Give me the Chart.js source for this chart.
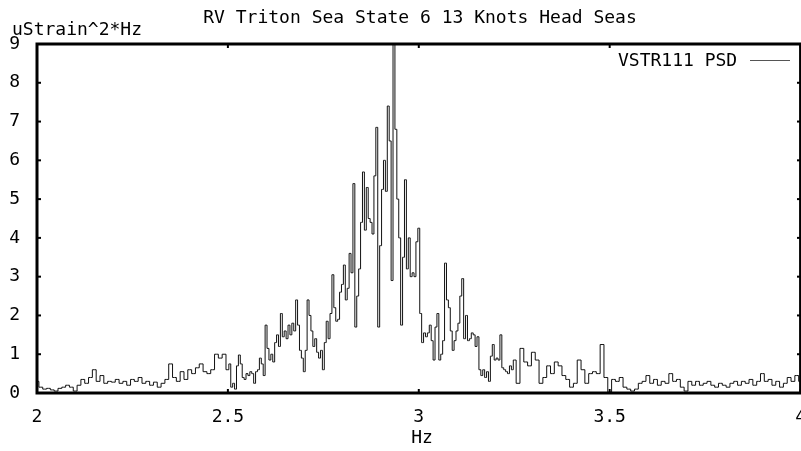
<!DOCTYPE html>
<html>
<head>
<meta charset="utf-8">
<script src="https://cdn.jsdelivr.net/npm/chart.js@4.4.0/dist/chart.umd.min.js"></script>
<style>
  html,body{margin:0;padding:0;background:#fff;overflow:hidden;}
  #clip{width:801px;height:451px;overflow:hidden;position:relative;}
  #psd{position:absolute;left:0;top:0;}
</style>
</head>
<body>
<div id="clip"><canvas id="psd" width="812" height="451"></canvas></div>
<script>
// PSD values, in three runs of fixed bin width
const lowStart = 2.00, lowStep = 0.01;
const lowPsd = [0.3,0.15,0.1,0.12,0.08,0.05,0.12,0.15,0.2,0.15,
  0.05,0.2,0.35,0.25,0.4,0.6,0.3,0.45,0.25,0.3,
  0.28,0.35,0.25,0.3,0.2,0.35,0.3,0.4,0.25,0.3,
  0.2,0.28,0.15,0.25,0.35,0.75,0.4,0.3,0.55,0.35,
  0.6,0.5,0.65,0.75,0.55,0.5,0.6,1.0,0.9,1.0];

const midStart = 2.50, midStep = 0.005;
const midPsd = [0.6,0.75,0.15,0.25,0.1,0.7,0.98,0.75,0.4,0.35,
  0.5,0.45,0.55,0.5,0.25,0.55,0.6,0.9,0.75,0.45,
  1.75,1.15,0.85,1.0,0.8,1.3,1.5,1.2,2.05,1.45,
  1.6,1.4,1.75,1.5,1.8,1.6,2.4,1.75,1.1,0.9,
  0.55,1.1,2.4,2.0,1.6,1.2,1.4,1.05,0.9,1.1,
  0.6,1.3,1.85,1.4,2.05,3.05,2.2,1.85,1.9,2.6,
  2.8,3.3,2.4,2.7,3.6,3.1,5.4,1.7,2.5,3.2,
  4.4,5.7,4.2,5.3,4.5,4.4,4.1,5.6,6.85,1.7,
  3.8,5.25,6.0,5.2,7.4,6.5,2.9,9.6,6.8,5.0,
  4.0,1.75,3.5,5.5,3.2,4.0,3.0,3.1,3.0,3.9,
  4.25,2.05,1.3,1.55,1.45,1.55,1.75,1.35,0.85,1.7,
  2.05,0.85,1.0,1.35,3.35,2.4,2.2,1.6,1.1,1.35,
  1.6,1.8,2.5,2.95,1.4,2.0,1.35,1.4,1.55,1.5,
  1.2,1.45,0.6,0.45,0.6,0.4,0.55,0.3,0.95,1.25,
  0.85,0.9,0.85,1.5,0.65,0.6,0.55,0.5,0.7,0.6];

const highStart = 3.25, highStep = 0.01;
const highPsd = [0.85,0.25,1.15,0.8,0.7,1.05,0.85,0.25,0.4,0.7,
  0.5,0.8,0.7,0.45,0.35,0.15,0.25,0.85,0.6,0.25,
  0.5,0.55,0.5,1.25,0.4,0.02,0.35,0.3,0.4,0.15,
  0.1,0.05,0.1,0.25,0.3,0.45,0.25,0.35,0.2,0.3,
  0.25,0.5,0.3,0.35,0.15,0.05,0.3,0.2,0.3,0.2,
  0.25,0.3,0.2,0.15,0.25,0.2,0.15,0.25,0.3,0.2,
  0.3,0.25,0.35,0.2,0.3,0.5,0.3,0.35,0.2,0.3,
  0.15,0.25,0.4,0.3,0.45,0.3];

const yTicks = [0,1,2,3,4,5,6,7,8,9];
const xTicks = [2,2.5,3,3.5,4];

const titleText = "RV Triton Sea State 6 13 Knots Head Seas";
const yTitle = "uStrain^2*Hz";
const xTitle = "Hz";
const seriesName = "VSTR111 PSD";

function run(start, step, vals){ return vals.map((v,i)=>({x:+(start+i*step).toFixed(4), y:v})); }
const points = [...run(lowStart,lowStep,lowPsd), ...run(midStart,midStep,midPsd), ...run(highStart,highStep,highPsd)];

const FONT = "DejaVu Sans Mono";
Chart.defaults.font.family = FONT;
Chart.defaults.font.size = 18;
Chart.defaults.color = "#000";

const frame = {
  id:"frame",
  afterDraw(chart){
    const {ctx, chartArea:a, scales:{x,y}} = chart;
    ctx.save();
    ctx.strokeStyle="#000"; ctx.lineWidth=3;
    ctx.strokeRect(a.left, a.top, a.right-a.left, a.bottom-a.top);
    ctx.lineWidth=2;
    yTicks.forEach(v=>{ const py=y.getPixelForValue(v);
      ctx.beginPath(); ctx.moveTo(a.left,py); ctx.lineTo(a.left+4,py); ctx.stroke();
      ctx.beginPath(); ctx.moveTo(797,py); ctx.lineTo(800,py); ctx.stroke(); });
    xTicks.forEach(v=>{ const px=x.getPixelForValue(v);
      ctx.beginPath(); ctx.moveTo(px,a.bottom); ctx.lineTo(px,a.bottom-4); ctx.stroke();
      ctx.beginPath(); ctx.moveTo(px,a.top); ctx.lineTo(px,a.top+4); ctx.stroke(); });
    ctx.fillStyle="#000"; ctx.font="18px '"+FONT+"'";
    ctx.textBaseline="alphabetic";
    ctx.textAlign="center"; ctx.fillText(titleText, 420, 23);
    ctx.textAlign="left"; ctx.fillText(yTitle, 12, 35);
    ctx.textAlign="center"; ctx.fillText(xTitle, 422, 443);
    ctx.textAlign="left"; ctx.fillText(seriesName, 618, 66);
    ctx.strokeStyle="#555"; ctx.lineWidth=1;
    ctx.beginPath(); ctx.moveTo(750,60.5); ctx.lineTo(790,60.5); ctx.stroke();
    ctx.restore();
  }
};

new Chart(document.getElementById("psd"), {
  type:"line",
  data:{datasets:[{label:seriesName, data:points, borderColor:"#111", borderWidth:1,
    pointRadius:0, stepped:"middle", fill:false}]},
  options:{
    responsive:false, animation:false, devicePixelRatio:1,
    layout:{padding:{top:44, right:5, left:0, bottom:0}},
    plugins:{legend:{display:false}, tooltip:{enabled:false}},
    scales:{
      x:{type:"linear", min:2, max:4,
        afterFit(s){ s.height=58; },
        afterBuildTicks(s){ s.ticks=xTicks.map(v=>({value:v})); },
        grid:{display:false}, border:{display:false},
        ticks:{padding:6, maxRotation:0, autoSkip:false, callback:v=>String(v)}},
      y:{min:0, max:9,
        afterFit(s){ s.width=37; },
        afterBuildTicks(s){ s.ticks=yTicks.map(v=>({value:v})); },
        grid:{display:false}, border:{display:false},
        ticks:{padding:9, callback:v=>String(v)}}
    }
  },
  plugins:[frame]
});
</script>
</body>
</html>
